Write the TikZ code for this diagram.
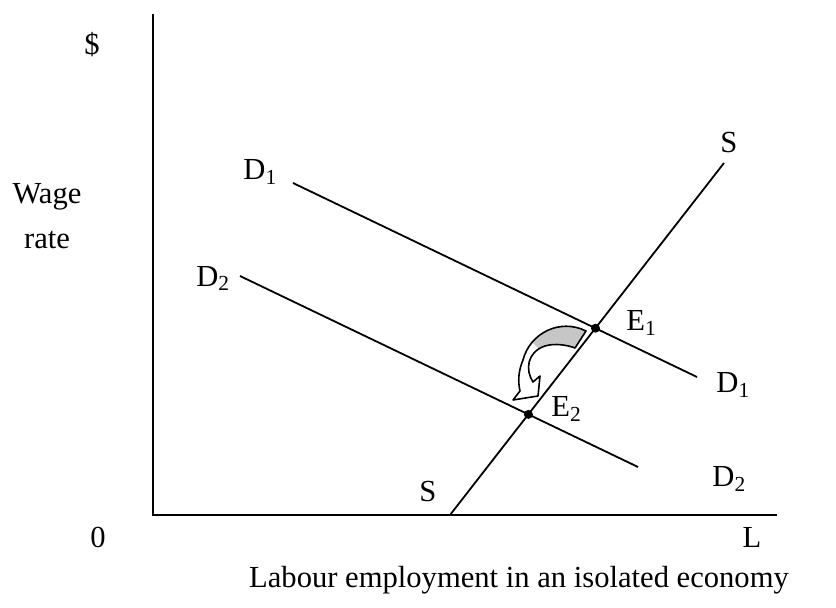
\documentclass[tikz,border=0pt]{standalone}
\usepackage{fontspec}
\setmainfont{Liberation Serif}
\begin{document}
\begin{tikzpicture}[x=0.5pt,y=-0.5pt,
  lbl/.style={font=\fontsize{15.3}{18}\selectfont, inner sep=0pt},
  curve/.style={line width=0.9pt},
  axis/.style={line width=1.1pt},
  dotpt/.style={circle, fill=black, inner sep=0pt, minimum size=4.5pt}]
\useasboundingbox (0,0) rectangle (836,608);
% axes
\coordinate (O) at (153,515);
\coordinate (ytop) at (153,14);
\coordinate (xend) at (777,515);
\draw[axis] (ytop) -- (O) -- (xend);
% curves
\coordinate (d1a) at (293,183); \coordinate (d1b) at (697,377);
\coordinate (d2a) at (240,276); \coordinate (d2b) at (638,467);
\coordinate (sa) at (450,515);  \coordinate (sb) at (724,163);
\draw[curve] (d1a) -- (d1b);
\draw[curve] (d2a) -- (d2b);
\draw[curve] (sa) -- (sb);
\node[dotpt] (E1) at (intersection of d1a--d1b and sa--sb) {};
\node[dotpt] (E2) at (intersection of d2a--d2b and sa--sb) {};
% curved arrow
\def\arrowpath{(586,331) .. controls (560,318) and (530,333) .. (523,360)
  .. controls (518,372) and (518,382) .. (520,391)
  -- (513,400) -- (538,396) -- (540,376) -- (533,382)
  .. controls (525,370) and (527,352) .. (545,346)
  .. controls (555,343) and (567,345) .. (575,348) -- cycle}
\fill[white] \arrowpath;
\begin{scope}
  \clip (532,300) -- (600,300) -- (600,360) -- (545,360) -- (538,348) -- (530,340) -- cycle;
  \fill[gray!45] \arrowpath;
\end{scope}
\draw[line width=0.8pt, line join=round] \arrowpath;
% labels
\node[lbl] (dollar) at (92,45) {\$};
\node[lbl] (wage) at (47,197) {Wage};
\node[lbl] (rate) at (47,240) {rate};
\node[lbl] (zero) at (98,537) {0};
\node[lbl] (Lx) at (752,537) {L};
\node[lbl] (xlab) at (519,580) {Labour employment in an isolated economy};
\node[lbl, anchor=base west] (D1l) at (243,180) {D\textsubscript{1}};
\node[lbl, anchor=base west] (D1r) at (716,393) {D\textsubscript{1}};
\node[lbl, anchor=base west] (D2l) at (196,286.5) {D\textsubscript{2}};
\node[lbl, anchor=base west] (D2r) at (712,487) {D\textsubscript{2}};
\node[lbl, anchor=base west] (E1l) at (626,331) {E\textsubscript{1}};
\node[lbl, anchor=base west] (E2l) at (551,417) {E\textsubscript{2}};
\node[lbl, anchor=base west] (Stop) at (720,153) {S};
\node[lbl, anchor=base west] (Sbot) at (419,502) {S};
\end{tikzpicture}
\end{document}
